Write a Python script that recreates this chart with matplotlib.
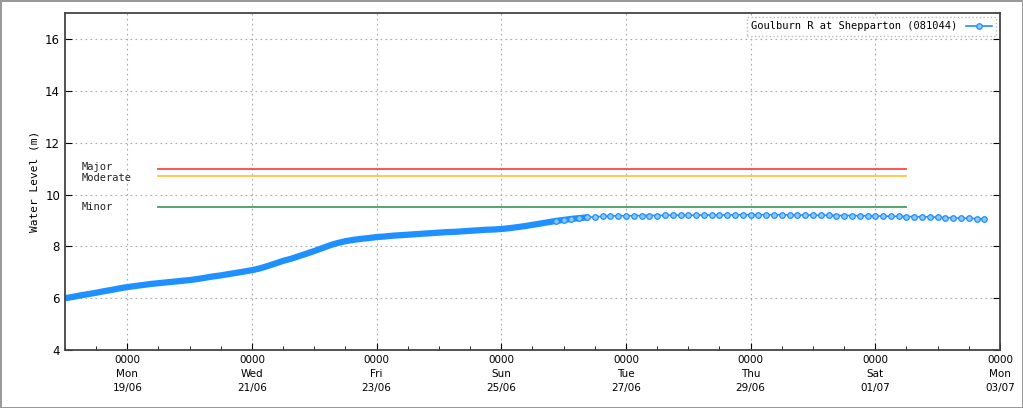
import numpy as np
import pandas as pd
import matplotlib
matplotlib.use('Agg')
import matplotlib.pyplot as plt
import matplotlib.dates as mdates

# river level, one reading every 3 hours from 18/06 00:00
start = '2023-06-18 00:00'
level = [
    6.00, 6.05, 6.11, 6.16, 6.21, 6.27, 6.32, 6.38,
    6.43, 6.47, 6.51, 6.55, 6.58, 6.61, 6.64, 6.67,
    6.70, 6.74, 6.79, 6.84, 6.88, 6.93, 6.98, 7.03,
    7.08, 7.15, 7.24, 7.34, 7.44, 7.52, 7.62, 7.72,
    7.82, 7.93, 8.04, 8.13, 8.20, 8.25, 8.29, 8.32,
    8.36, 8.38, 8.41, 8.43, 8.45, 8.47, 8.49, 8.51,
    8.53, 8.55, 8.56, 8.58, 8.60, 8.62, 8.64, 8.65,
    8.67, 8.70, 8.74, 8.78, 8.83, 8.88, 8.93, 8.98,
    9.02, 9.06, 9.09, 9.12, 9.14, 9.16, 9.17, 9.18,
    9.18, 9.18, 9.19, 9.19, 9.19, 9.20, 9.20, 9.20,
    9.20, 9.20, 9.21, 9.21, 9.21, 9.21, 9.22, 9.22,
    9.22, 9.22, 9.22, 9.22, 9.22, 9.21, 9.21, 9.21,
    9.20, 9.20, 9.20, 9.19, 9.19, 9.19, 9.18, 9.18,
    9.17, 9.17, 9.16, 9.16, 9.15, 9.15, 9.14, 9.14,
    9.12, 9.11, 9.10, 9.09, 9.08, 9.07, 9.06,
]
times = pd.date_range(start, periods=len(level), freq='3h')
dense_until = 67  # readings were every few minutes up to here

# flood classes
flood_names = ['Major', 'Moderate', 'Minor']
flood_levels = [11.0, 10.7, 9.5]
flood_colors = ['#ff4444', '#ffc444', '#44a066']
flood_start = pd.Timestamp('2023-06-19 12:00')
flood_end = pd.Timestamp('2023-07-01 12:00')

fig = plt.figure(figsize=(10.23, 4.08), dpi=100)
fig.patch.set_edgecolor('#999999')
fig.patch.set_linewidth(2)
ax = fig.add_axes([0.0635, 0.142, 0.914, 0.826])

label_offset = [0.08, -0.08, 0.0]
for name, lvl, col, off in zip(flood_names, flood_levels, flood_colors, label_offset):
    ax.plot([flood_start, flood_end], [lvl, lvl], color=col, lw=1.3)
    ax.text(pd.Timestamp('2023-06-18 06:30'), lvl + off, name, family='DejaVu Sans Mono',
            fontsize=7.5, va='center', ha='left', color='#222222')

ax.plot(times[:dense_until + 1], level[:dense_until + 1], color='#1e90ff', lw=4.5,
        solid_capstyle='round')
ax.plot(times, level, color='#1e90ff', lw=1.2, marker='o', ms=4,
        mfc='#8ec8ff', mec='#1e90ff', mew=0.9, markevery=slice(dense_until - 4, None),
        label='Goulburn R at Shepparton (081044)')

ax.set_xlim(pd.Timestamp('2023-06-18'), pd.Timestamp('2023-07-03'))
ax.set_ylim(4, 17)
ax.set_yticks(np.arange(4, 17, 2))
ax.xaxis.set_major_locator(mdates.DayLocator(bymonthday=[19, 21, 23, 25, 27, 29, 1, 3]))
ax.xaxis.set_major_formatter(mdates.DateFormatter('%H%M\n%a\n%d/%m'))
ax.xaxis.set_minor_locator(mdates.HourLocator(byhour=[0, 12]))
ax.tick_params(which='both', direction='in', right=True, labelsize=7.5)
ax.tick_params(which='major', length=5)
ax.tick_params(which='minor', length=3)
ax.tick_params(axis='y', labelsize=8.5)
for lab in ax.get_xticklabels():
    lab.set_linespacing(1.5)
ax.grid(True, which='major', color='#aaaaaa', linestyle=(0, (1.5, 3)), lw=0.8)
for s in ax.spines.values():
    s.set_color('#444444')
    s.set_linewidth(1.3)

ax.set_ylabel('Water Level (m)', family='DejaVu Sans Mono', fontsize=8)
leg = ax.legend(loc='upper right', markerfirst=False, prop={'family': 'DejaVu Sans Mono', 'size': 7.5},
                fancybox=False, handlelength=2.5, borderaxespad=0.4, framealpha=1)
leg.get_frame().set_edgecolor('#bbbbbb')
leg.get_frame().set_linestyle(':')

fig.savefig('out.png', dpi=100)
